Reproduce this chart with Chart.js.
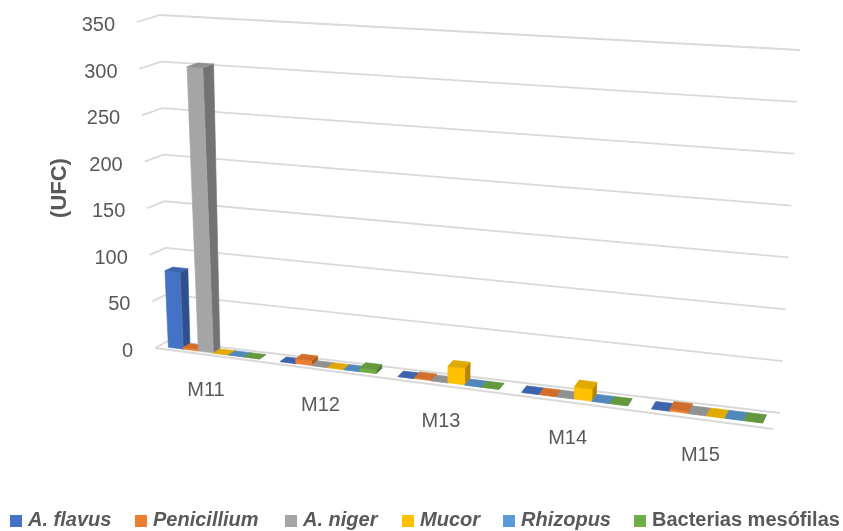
<!DOCTYPE html>
<html lang="es">
<head>
  <meta charset="UTF-8">
  <title>UFC por muestra (M11–M15)</title>
  <script src="https://cdn.jsdelivr.net/npm/chart.js"></script>
  <style>
    html, body { margin: 0; padding: 0; background: #fff; }
    #wrap { position: relative; width: 843px; height: 531px; overflow: hidden; }
    #legend { position: absolute; left: 0; top: 507px; width: 843px; height: 24px;
      font: bold 20px "Liberation Sans", Arial, sans-serif; color: #595959; }
    .item { position: absolute; top: 0; white-space: nowrap; line-height: 24px; }
    .box { display: inline-block; width: 12px; height: 12px; margin-right: 6px; vertical-align: -1px; }
  </style>
</head>
<body>
<div id="wrap">
  <canvas id="chart" width="843" height="531"></canvas>
  <div id="legend"></div>
</div>

<script>
  // datos
  const categorias = ["M11", "M12", "M13", "M14", "M15"];
  const series = ["A. flavus", "Penicillium", "A. niger", "Mucor", "Rhizopus", "Bacterias mesófilas"];
  const cursiva = [true, true, true, true, true, false];
  const colores = ["#4472C4", "#ED7D31", "#A5A5A5", "#FFC000", "#5B9BD5", "#70AD47"];

  const aFlavus     = [82, 0, 0, 0, 0];
  const penicillium = [2, 5, 1, 0, 2];
  const aNiger      = [303, 0, 0, 0, 0];
  const mucor       = [0, 0, 17, 12, 0];
  const rhizopus    = [0, 0, 0, 0, 0];
  const bacterias   = [0, 4, 0, 0, 0];

  const ticksY = [0, 50, 100, 150, 200, 250, 300, 350];
  const tituloY = "(UFC)";

  // --- perspectiva (esquinas del cubo en pantalla) ---
  const FL0 = [155, 348], FL1 = [137, 22], BL0 = [168, 341], BL1 = [160, 15];
  const FR0 = [773, 429], FR1 = [790, 66], BR0 = [780, 413], BR1 = [800, 50];
  const K = 0.14; // escorzo horizontal
  const PROF = [0.28, 0.8]; // profundidad de las barras

  function lerp(a, b, t) { return [a[0] + (b[0] - a[0]) * t, a[1] + (b[1] - a[1]) * t]; }
  function proj(u, d, w) {
    const fu = u * (1 + K * u) / (1 + K);
    const L = lerp(lerp(FL0, FL1, w), lerp(BL0, BL1, w), d);
    const R = lerp(lerp(FR0, FR1, w), lerp(BR0, BR1, w), d);
    return lerp(L, R, fu);
  }
  function tono(hex, f) {
    const n = parseInt(hex.slice(1), 16);
    const r = Math.round(((n >> 16) & 255) * f), g = Math.round(((n >> 8) & 255) * f), b = Math.round((n & 255) * f);
    return `rgb(${r},${g},${b})`;
  }
  function cara(ctx, pts, color) {
    ctx.beginPath();
    ctx.moveTo(pts[0][0], pts[0][1]);
    for (let k = 1; k < pts.length; k++) ctx.lineTo(pts[k][0], pts[k][1]);
    ctx.closePath();
    ctx.fillStyle = color; ctx.strokeStyle = color; ctx.lineWidth = 0.6;
    ctx.fill(); ctx.stroke();
  }
  function barra(ctx, u0, u1, w0, w1, color) {
    const [d0, d1] = PROF;
    cara(ctx, [proj(u1, d0, w0), proj(u1, d1, w0), proj(u1, d1, w1), proj(u1, d0, w1)], tono(color, 0.7));
    cara(ctx, [proj(u0, d0, w0), proj(u1, d0, w0), proj(u1, d0, w1), proj(u0, d0, w1)], color);
    cara(ctx, [proj(u0, d0, w1), proj(u1, d0, w1), proj(u1, d1, w1), proj(u0, d1, w1)], tono(color, 0.88));
  }

  const perspectiva = {
    id: "perspectiva",
    beforeDatasetsDraw(chart) {
      const ctx = chart.ctx, area = chart.chartArea;
      const xs = chart.scales.x, ys = chart.scales.y;
      const U = x => (x - area.left) / area.width;
      const W = y => (area.bottom - y) / area.height;

      ctx.save();
      // rejilla + etiquetas del eje Y
      ctx.strokeStyle = "#D9D9D9"; ctx.lineWidth = 1.8;
      ctx.font = '20px "Liberation Sans", Arial, sans-serif';
      ctx.fillStyle = "#595959"; ctx.textAlign = "right"; ctx.textBaseline = "alphabetic";
      ticksY.forEach(v => {
        const w = W(ys.getPixelForValue(v));
        const a = proj(0, 0, w), b = proj(0, 1, w), c = proj(1, 1, w);
        ctx.beginPath(); ctx.moveTo(a[0], a[1]); ctx.lineTo(b[0], b[1]); ctx.lineTo(c[0], c[1]); ctx.stroke();
        ctx.fillText(String(v), a[0] - 22, a[1] + 9);
      });
      const f0 = proj(0, 0, 0), f1 = proj(1, 0, 0);
      ctx.beginPath(); ctx.moveTo(f0[0], f0[1]); ctx.lineTo(f1[0], f1[1]); ctx.stroke();

      // barras 3D
      categorias.forEach((cat, i) => {
        chart.data.datasets.forEach((ds, j) => {
          const el = chart.getDatasetMeta(j).data[i];
          const p = el.getProps(["x", "y", "base", "width"], true);
          barra(ctx, U(p.x - p.width / 2), U(p.x + p.width / 2), W(p.base), W(p.y), colores[j]);
        });
        // etiqueta de categoría
        const q = proj(U(xs.getPixelForValue(i)), 0, 0);
        ctx.textAlign = "center"; ctx.fillStyle = "#595959";
        ctx.fillText(cat, q[0] - 4, q[1] + 41);
      });

      // título del eje
      ctx.translate(60, 188); ctx.rotate(-Math.PI / 2);
      ctx.font = 'bold 22px "Liberation Sans", Arial, sans-serif';
      ctx.textAlign = "center"; ctx.textBaseline = "middle";
      ctx.fillText(tituloY, 0, 0);
      ctx.restore();
      return false;
    }
  };

  const valores = [aFlavus, penicillium, aNiger, mucor, rhizopus, bacterias];

  new Chart(document.getElementById("chart"), {
    type: "bar",
    data: {
      labels: categorias,
      datasets: series.map((s, j) => ({ label: s, data: valores[j], backgroundColor: colores[j] }))
    },
    options: {
      responsive: false,
      animation: false,
      devicePixelRatio: 1,
      layout: { padding: 0 },
      datasets: { bar: { categoryPercentage: 0.82, barPercentage: 1.0 } },
      plugins: { legend: { display: false }, tooltip: { enabled: false } },
      scales: {
        x: { display: false },
        y: { display: false, min: 0, max: 350 }
      }
    },
    plugins: [perspectiva]
  });

  // leyenda
  const posLeyenda = [10, 135, 285, 402, 503, 634];
  const leyenda = document.getElementById("legend");
  series.forEach((s, j) => {
    const it = document.createElement("div");
    it.className = "item";
    it.style.left = posLeyenda[j] + "px";
    it.innerHTML = `<span class="box" style="background:${colores[j]}"></span>` +
      `<span style="font-style:${cursiva[j] ? "italic" : "normal"}">${s}</span>`;
    leyenda.appendChild(it);
  });
</script>
</body>
</html>
